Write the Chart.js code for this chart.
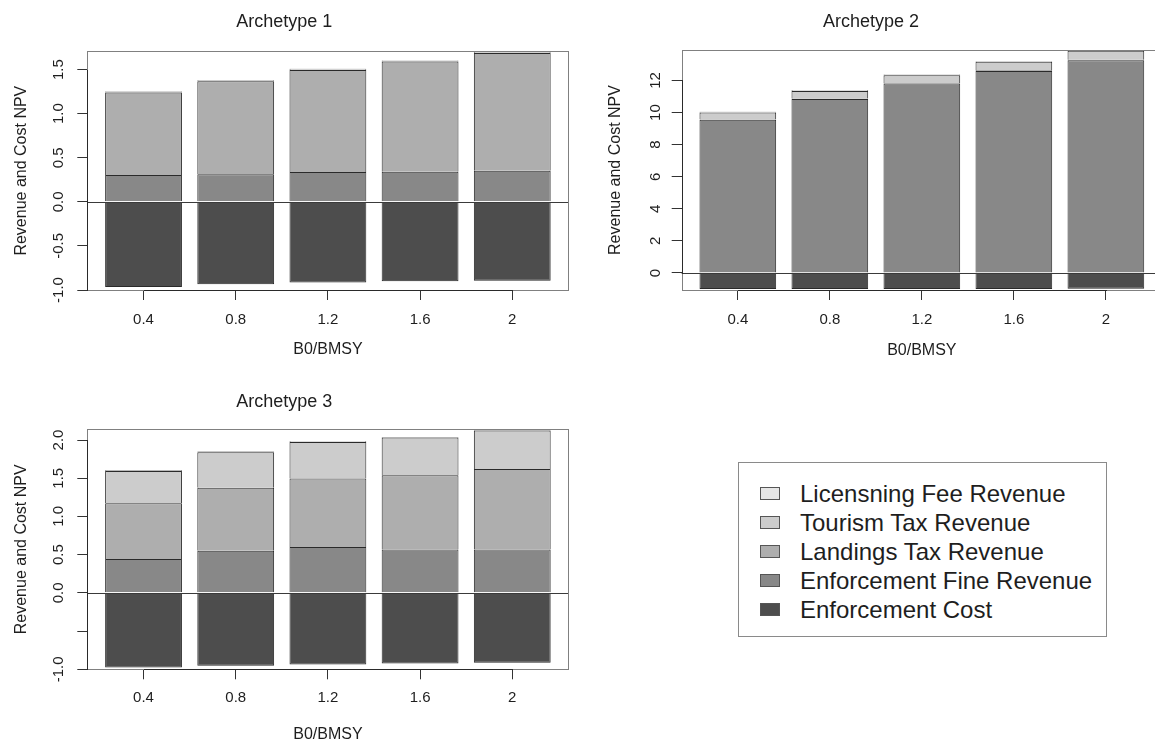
<!DOCTYPE html>
<html>
<head>
<meta charset="utf-8">
<script src="https://cdn.jsdelivr.net/npm/chart.js@4.4.1/dist/chart.umd.min.js"></script>
<style>
html, body { margin: 0; padding: 0; background: #fff; overflow: hidden; width: 1155px; height: 741px; }
canvas { position: absolute; }
#legend { position: absolute; left: 738px; top: 462px; width: 369px; height: 175px; border: 1px solid #8a8a8a; box-sizing: border-box; font-family: "Liberation Sans", Arial, sans-serif; color: #1e1e1e; }
#legend .row { position: absolute; left: 0; height: 29px; line-height: 29px; font-size: 24px; white-space: nowrap; }
#legend .sw { position: absolute; left: 21px; top: 8px; width: 18px; height: 11px; border: 1px solid #555; }
#legend .tx { position: absolute; left: 61px; top: 0; }
</style>
</head>
<body>
<canvas id="c1" width="620" height="380" style="left:0px;top:0px"></canvas>
<canvas id="c2" width="600" height="380" style="left:580px;top:0px"></canvas>
<canvas id="c3" width="620" height="380" style="left:0px;top:380px"></canvas>
<div id="legend"></div>
<script>
// ---------- data ----------
const categories = ['0.4', '0.8', '1.2', '1.6', '2'];
const seriesNames = ['Enforcement Cost', 'Enforcement Fine Revenue', 'Landings Tax Revenue', 'Tourism Tax Revenue', 'Licensning Fee Revenue'];
const seriesColors = ['#4d4d4d', '#888888', '#aeaeae', '#cccccc', '#e6e6e6'];

// Archetype 1
const a1Cost      = [-0.966, -0.936, -0.914, -0.902, -0.895];
const a1Fine      = [0.305, 0.312, 0.338, 0.342, 0.353];
const a1Landings  = [0.935, 1.056, 1.158, 1.248, 1.335];
const a1Tourism   = [0.008, 0.008, 0.008, 0.008, 0.008];
const a1Licensing = [0.006, 0.006, 0.006, 0.006, 0.006];

// Archetype 2
const a2Cost      = [-1.00, -1.00, -0.99, -0.99, -0.98];
const a2Fine      = [9.55, 10.84, 11.81, 12.59, 13.26];
const a2Landings  = [0.04, 0.04, 0.04, 0.04, 0.04];
const a2Tourism   = [0.42, 0.47, 0.48, 0.53, 0.56];
const a2Licensing = [0.04, 0.04, 0.04, 0.04, 0.04];

// Archetype 3
const a3Cost      = [-0.976, -0.954, -0.937, -0.923, -0.915];
const a3Fine      = [0.442, 0.551, 0.600, 0.569, 0.569];
const a3Landings  = [0.731, 0.823, 0.897, 0.971, 1.050];
const a3Tourism   = [0.422, 0.466, 0.478, 0.492, 0.505];
const a3Licensing = [0.008, 0.008, 0.008, 0.008, 0.008];

// axis limits and ticks
const yRange1 = [-1.0, 1.707];
const yRange2 = [-1.06, 13.9];
const yRange3 = [-1.0, 2.14];
const yTicks1 = [-1.0, -0.5, 0, 0.5, 1.0, 1.5];
const yTickLabels1 = ['-1.0', '-0.5', '0.0', '0.5', '1.0', '1.5'];
const yTicks2 = [0, 2, 4, 6, 8, 10, 12];
const yTickLabels2 = ['0', '2', '4', '6', '8', '10', '12'];
const yTicks3 = [-1.0, -0.5, 0, 0.5, 1.0, 1.5, 2.0];
const yTickLabels3 = ['-1.0', '', '0.0', '0.5', '1.0', '1.5', '2.0'];
const xLabel = 'B0/BMSY';
const yLabel = 'Revenue and Cost NPV';

// ---------- rendering ----------
Chart.defaults.font.family = '"Liberation Sans", Arial, Helvetica, sans-serif';
Chart.defaults.color = '#1e1e1e';

const framePlugin = {
  id: 'frame',
  afterDatasetsDraw(chart) {
    const { ctx, chartArea: a, scales: { x, y } } = chart;
    ctx.save();
    ctx.lineWidth = 1;
    // horizontal reference line at zero
    const y0 = Math.round(y.getPixelForValue(0)) + 0.5;
    ctx.strokeStyle = '#3a3a3a';
    ctx.beginPath(); ctx.moveTo(a.left, y0); ctx.lineTo(a.right, y0); ctx.stroke();
    // plot box
    ctx.strokeStyle = '#808080';
    ctx.strokeRect(Math.round(a.left) + 0.5, Math.round(a.top) + 0.5, Math.round(a.right - a.left), Math.round(a.bottom - a.top));
    // axis lines spanning first..last tick
    ctx.strokeStyle = '#2a2a2a';
    const xt = x.ticks, yt = y.ticks;
    const bx = Math.round(a.bottom) + 0.5;
    ctx.beginPath();
    ctx.moveTo(Math.round(x.getPixelForValue(xt[0].value)), bx);
    ctx.lineTo(Math.round(x.getPixelForValue(xt[xt.length - 1].value)) + 1, bx);
    ctx.stroke();
    const lx = Math.round(a.left) + 0.5;
    ctx.beginPath();
    ctx.moveTo(lx, Math.round(y.getPixelForValue(yt[0].value)) + 1);
    ctx.lineTo(lx, Math.round(y.getPixelForValue(yt[yt.length - 1].value)));
    ctx.stroke();
    ctx.restore();
  }
};

function makePanel(id, titleText, series, yRange, yTicks, yTickLabels, g) {
  const datasets = series.map((vals, k) => ({
    label: seriesNames[k],
    data: vals.map((v, i) => ({ x: i, y: v })),
    backgroundColor: seriesColors[k],
    borderColor: '#2a2a2a',
    borderWidth: 1,
    borderSkipped: 'start',
    categoryPercentage: 1.0,
    barPercentage: 1 / 1.2,
    stack: 'all'
  }));
  return new Chart(document.getElementById(id), {
    type: 'bar',
    data: { datasets },
    plugins: [framePlugin],
    options: {
      responsive: false,
      animation: false,
      layout: { padding: { left: 0, right: g.padRight, top: 0, bottom: 0 } },
      plugins: {
        legend: { display: false },
        tooltip: { enabled: false },
        title: {
          display: true, text: titleText, color: '#1e1e1e',
          font: { size: 18, weight: 'normal' },
          padding: { top: g.titleTop, bottom: g.titleBottom }
        }
      },
      scales: {
        x: {
          type: 'linear', stacked: true, offset: false,
          min: -0.61, max: 4.61,
          afterBuildTicks: s => { s.ticks = categories.map((c, i) => ({ value: i })); },
          afterFit: s => { s.height = g.xHeight; },
          ticks: { callback: (v) => categories[v], font: { size: 15 }, padding: g.xTickPad, maxRotation: 0, minRotation: 0, autoSkip: false, color: '#1e1e1e' },
          grid: { offset: false, drawOnChartArea: false, drawTicks: true, tickLength: 10, color: '#333', lineWidth: 1 },
          border: { display: false },
          title: { display: true, text: xLabel, font: { size: 16 }, color: '#1e1e1e', padding: { top: 0, bottom: g.xTitlePad } }
        },
        y: {
          type: 'linear', stacked: true,
          min: yRange[0], max: yRange[1],
          afterBuildTicks: s => { s.ticks = yTicks.map(v => ({ value: v })); },
          afterFit: s => { s.width = g.yWidth; },
          ticks: { callback: (v, i) => yTickLabels[i], font: { size: 15 }, padding: g.yTickPad, minRotation: 90, maxRotation: 90, crossAlign: 'center', autoSkip: false, color: '#1e1e1e' },
          grid: { drawOnChartArea: false, drawTicks: true, tickLength: 10, color: '#333', lineWidth: 1 },
          border: { display: false },
          title: { display: true, text: yLabel, font: { size: 16 }, color: '#1e1e1e', padding: { top: g.yTitlePad, bottom: 0 } }
        }
      }
    }
  });
}

makePanel('c1', 'Archetype 1', [a1Cost, a1Fine, a1Landings, a1Tourism, a1Licensing], yRange1, yTicks1, yTickLabels1,
  { padRight: 51.5, titleTop: 11, titleBottom: 18.7, xHeight: 90, xTickPad: 11, xTitlePad: 20.4, yWidth: 87.3, yTickPad: 6, yTitlePad: 12 });
makePanel('c2', 'Archetype 2', [a2Cost, a2Fine, a2Landings, a2Tourism, a2Licensing], yRange2, yTicks2, yTickLabels2,
  { padRight: 18, titleTop: 11, titleBottom: 17.4, xHeight: 90, xTickPad: 11, xTitlePad: 19.4, yWidth: 101.7, yTickPad: 7, yTitlePad: 26.4 });
makePanel('c3', 'Archetype 3', [a3Cost, a3Fine, a3Landings, a3Tourism, a3Licensing], yRange3, yTicks3, yTickLabels3,
  { padRight: 51.5, titleTop: 11, titleBottom: 16.7, xHeight: 90.7, xTickPad: 10, xTitlePad: 16.1, yWidth: 87.3, yTickPad: 6, yTitlePad: 12 });

// ---------- legend (top-down order as in the figure) ----------
const legend = document.getElementById('legend');
for (let r = 0; r < seriesNames.length; r++) {
  const k = seriesNames.length - 1 - r;
  const row = document.createElement('div');
  row.className = 'row';
  row.style.top = (15.8 + 29.1 * r) + 'px';
  row.style.width = '100%';
  const sw = document.createElement('div');
  sw.className = 'sw';
  sw.style.background = seriesColors[k];
  const tx = document.createElement('div');
  tx.className = 'tx';
  tx.textContent = seriesNames[k];
  row.appendChild(sw); row.appendChild(tx);
  legend.appendChild(row);
}
</script>
</body>
</html>
